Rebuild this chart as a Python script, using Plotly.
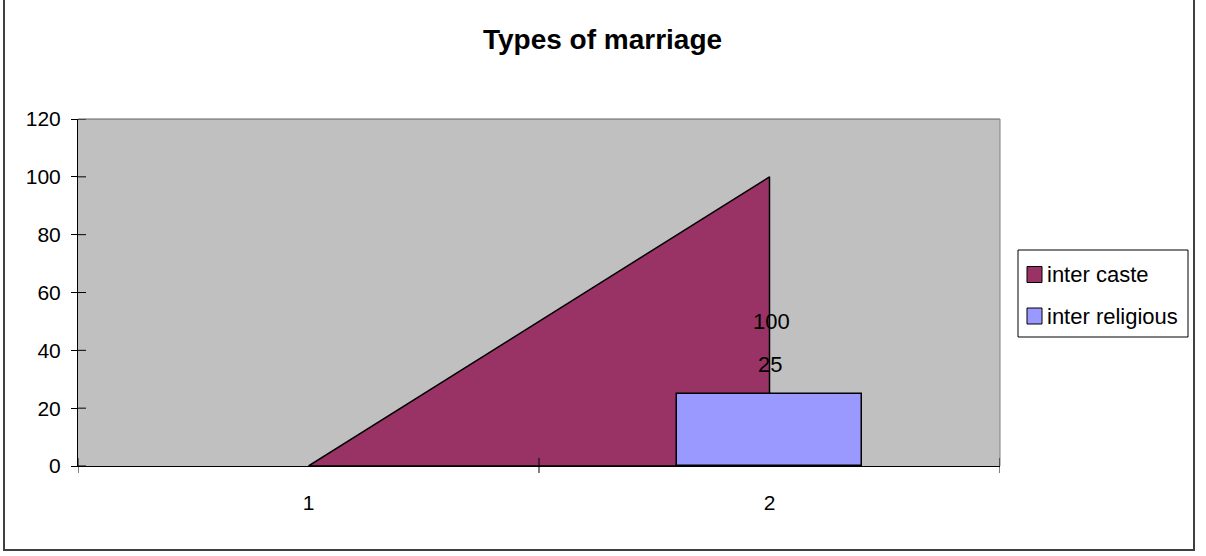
import plotly.graph_objects as go

categories = [1, 2]
series_names = ["inter caste", "inter religious"]
inter_caste = [0, 100]
inter_religious = [0, 25]
y_ticks = [0, 20, 40, 60, 80, 100, 120]
title_text = "Types of marriage"
colors = ["#993366", "#9999FF"]

FONT = "Liberation Sans, Arial, sans-serif"

# pixel geometry of the plot area
L, R, T, B = 78, 1000, 119, 466
PW, PH = R - L, B - T


def px_x(p):
    return (p - L) / PW


def px_y(p):
    return (B - p) / PH


fig = go.Figure()

# area: polygon closed down to zero so every edge gets a border
area_x = categories + categories[::-1]
area_y = inter_caste + [0] * len(categories)
fig.add_trace(go.Scatter(
    x=area_x, y=area_y, fill="toself", mode="lines",
    fillcolor=colors[0], line=dict(color="black", width=1.5),
    name=series_names[0], showlegend=False, xaxis="x", yaxis="y", hoverinfo="skip",
))

fig.add_trace(go.Bar(
    x=categories, y=inter_religious, width=0.4,
    marker=dict(color=colors[1],
                line=dict(color="black", width=[0 if v == 0 else 1.5 for v in inter_religious])),
    name=series_names[1], showlegend=False, xaxis="x2", yaxis="y2",
))

# data labels
fig.add_annotation(x=categories[-1], y=inter_caste[-1] / 2, text=str(inter_caste[-1]),
                   showarrow=False, xref="x", yref="y", yanchor="middle", xshift=2,
                   font=dict(family=FONT, size=22, color="black"))
fig.add_annotation(x=categories[-1], y=inter_religious[-1], text=str(inter_religious[-1]),
                   showarrow=False, xref="x", yref="y", yanchor="middle", yshift=29,
                   font=dict(family=FONT, size=22, color="black"))

fig.update_layout(
    width=1206, height=556,
    margin=dict(l=L, r=1206 - R, t=T, b=556 - B, autoexpand=False),
    paper_bgcolor="white", plot_bgcolor="#C0C0C0",
    font=dict(family=FONT, size=21, color="black"),
    title=dict(text="<b>" + title_text + "</b>", x=(484 + 721) / 2 / 1206, xref="container",
               xanchor="center", yref="container", y=1 - 39 / 556, yanchor="middle",
               font=dict(family=FONT, size=28, color="black")),
    xaxis=dict(range=[0.5, 2.5], tickvals=categories, ticktext=[str(c) for c in categories],
               showgrid=False, zeroline=False, showline=True, linecolor="black", linewidth=1,
               ticks="", ticklabelstandoff=18, fixedrange=True,
               tickfont=dict(family=FONT, size=21, color="black")),
    yaxis=dict(range=[0, 120], tickvals=y_ticks, showgrid=False, zeroline=False,
               showline=True, linecolor="black", linewidth=1, ticks="outside",
               ticklen=6, tickcolor="black", ticklabelstandoff=6, fixedrange=True,
               tickfont=dict(family=FONT, size=21, color="black")),
    xaxis2=dict(range=[0.5, 2.5], overlaying="x", visible=False, fixedrange=True),
    yaxis2=dict(range=[0, 120], overlaying="y", visible=False, fixedrange=True),
    bargap=0,
    showlegend=False,
)

shapes = []
# plot area border (top/right in gray)
shapes.append(dict(type="line", xref="paper", yref="paper", x0=0, x1=1, y0=1, y1=1,
                   line=dict(color="#606060", width=1)))
shapes.append(dict(type="line", xref="paper", yref="paper", x0=1, x1=1, y0=0, y1=1,
                   line=dict(color="#808080", width=1)))
# inside part of crossing y ticks
for yv in y_ticks:
    shapes.append(dict(type="line", xref="paper", yref="y", x0=0, x1=8 / PW, y0=yv, y1=yv,
                       line=dict(color="black", width=1)))
# x-axis crossing tick marks at category boundaries
for bx in [0.5, 1.5, 2.5]:
    shapes.append(dict(type="line", xref="x", yref="paper", x0=bx, x1=bx,
                       y0=-7 / PH, y1=8 / PH, line=dict(color="black", width=1)))
# legend box
shapes.append(dict(type="rect", xref="paper", yref="paper",
                   x0=px_x(1018), x1=px_x(1188), y0=px_y(337), y1=px_y(250),
                   fillcolor="white", line=dict(color="black", width=1)))
legend_rows = [274.5, 316]
for name, col, cy in zip(series_names, colors, legend_rows):
    shapes.append(dict(type="rect", xref="paper", yref="paper",
                       x0=px_x(1027), x1=px_x(1042), y0=px_y(cy + 8), y1=px_y(cy - 8),
                       fillcolor=col, line=dict(color="black", width=1)))
    fig.add_annotation(x=px_x(1045), y=px_y(cy), xref="paper", yref="paper",
                       xanchor="left", yanchor="middle", showarrow=False, text=name,
                       font=dict(family=FONT, size=22, color="black"))
# outer chart border
shapes.append(dict(type="rect", xref="paper", yref="paper",
                   x0=px_x(4), x1=px_x(1194), y0=px_y(550), y1=px_y(-3),
                   line=dict(color="#404040", width=2), layer="above"))
fig.update_layout(shapes=shapes)

fig.write_html("out.html", config={"displayModeBar": False},
               post_script="document.body.style.margin='0';")
